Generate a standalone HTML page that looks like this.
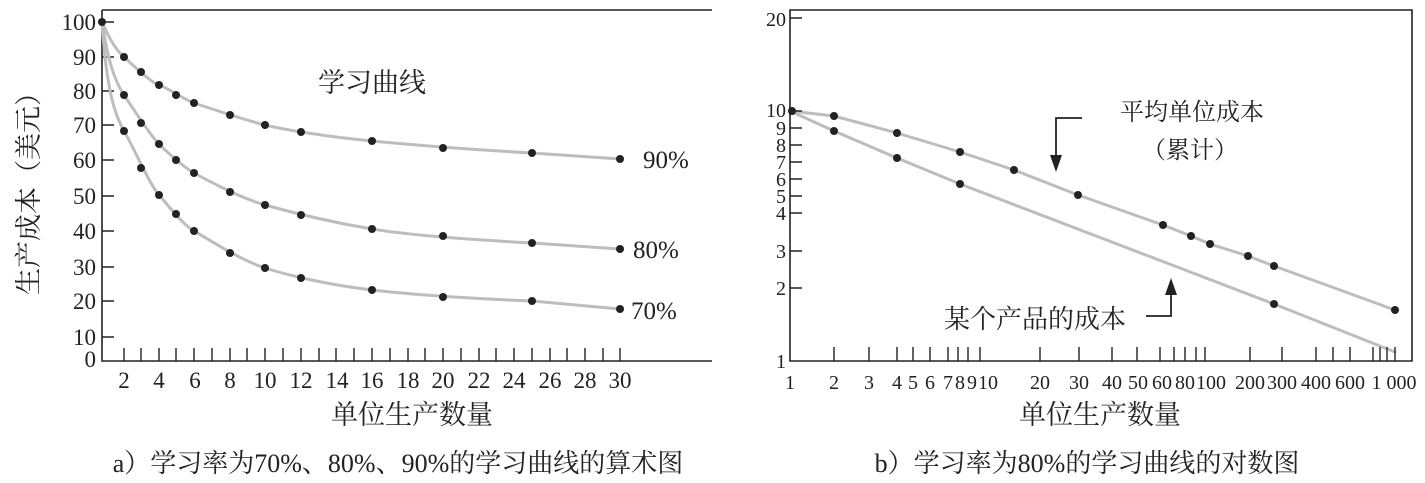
<!DOCTYPE html>
<html><head><meta charset="utf-8"><style>
html,body{margin:0;padding:0;background:#fff}
svg{display:block}
text{font-family:"Liberation Serif","Noto Serif CJK SC","Noto Sans CJK SC",serif;fill:#222}
</style></head><body>
<svg width="1425" height="483" viewBox="0 0 1425 483">
<g stroke="#222" stroke-width="1.6" fill="none">
<path d="M102 10 H712 M102 10 V361 H712"/>
<path d="M790 10 H1412 V361 H790 Z"/>
</g>
<g stroke="#222" stroke-width="1.4">
<path d="M102 22h12M102 57h12M102 91h12M102 125h12M102 160h12M102 196h12M102 231h12M102 267h12M102 301h12M102 337h12"/>
<path d="M124 348v13M141 348v13M159 348v13M176 348v13M194 348v13M212 348v13M230 348v13M247 348v13M265 348v13M283 348v13M301 348v13M319 348v13M336 348v13M354 348v13M372 348v13M390 348v13M408 348v13M425 348v13M443 348v13M461 348v13M479 348v13M496 348v13M514 348v13M532 348v13M550 348v13M567 348v13M585 348v13M603 348v13M620 348v13"/>
</g>
<g font-size="23" text-anchor="end">
<text x="96" y="30">100</text><text x="96" y="65">90</text><text x="96" y="99">80</text><text x="96" y="133">70</text><text x="96" y="168">60</text><text x="96" y="204">50</text><text x="96" y="239">40</text><text x="96" y="275">30</text><text x="96" y="309">20</text><text x="96" y="345">10</text><text x="96" y="367">0</text>
</g>
<g font-size="23" text-anchor="middle">
<text x="124" y="388">2</text><text x="159" y="388">4</text><text x="195" y="388">6</text><text x="230" y="388">8</text><text x="265" y="388">10</text><text x="301" y="388">12</text><text x="337" y="388">14</text><text x="372" y="388">16</text><text x="408" y="388">18</text><text x="443" y="388">20</text><text x="479" y="388">22</text><text x="514" y="388">24</text><text x="550" y="388">26</text><text x="585" y="388">28</text><text x="620" y="388">30</text>
</g>
<text x="0" y="0" font-size="27" text-anchor="middle" transform="translate(38 187) rotate(-90)">生产成本（美元）</text>
<text x="372" y="92" font-size="27" text-anchor="middle">学习曲线</text>
<text x="643" y="168" font-size="25">90%</text>
<text x="633" y="258" font-size="25">80%</text>
<text x="631" y="319" font-size="25">70%</text>
<text x="412" y="424" font-size="27" text-anchor="middle">单位生产数量</text>
<text x="398" y="472" font-size="26" text-anchor="middle">a）学习率为70%、80%、90%的学习曲线的算术图</text>
<g stroke="#bdbdbd" stroke-width="3" fill="none" stroke-linejoin="round" stroke-linecap="round">
<path d="M102 22 C110 40 116 50 124 57 S150 82 159 85 S185 100 194 103 S245 120 265 125 S330 137 372 141 S480 150 532 153 L620 159"/>
<path d="M102 22 C108 60 114 80 124 95 S150 135 159 144 S185 168 194 173 S240 198 265 205 S330 222 372 229 S480 240 532 243 L620 249"/>
<path d="M102 22 C106 80 112 110 124 131 S150 185 159 195 S183 225 194 231 S240 260 265 268 S330 285 372 290 S480 299 532 301 L620 309"/>
<polyline points="790,111 834,116 897,133 960,152 1014,170 1078,195 1163,225 1191,236 1210,244 1248,256 1274,266 1395,310"/>
<polyline points="790,111 834,131 897,158 960,184 1274,304 1395,352"/>
</g>
<g fill="#222">
<circle cx="102" cy="22" r="4"/>
<circle cx="124" cy="57" r="4"/><circle cx="141" cy="72" r="4"/><circle cx="159" cy="85" r="4"/><circle cx="176" cy="95" r="4"/><circle cx="194" cy="103" r="4"/><circle cx="230" cy="115" r="4"/><circle cx="265" cy="125" r="4"/><circle cx="301" cy="132" r="4"/><circle cx="372" cy="141" r="4"/><circle cx="443" cy="148" r="4"/><circle cx="532" cy="153" r="4"/><circle cx="620" cy="159" r="4"/>
<circle cx="124" cy="95" r="4"/><circle cx="141" cy="123" r="4"/><circle cx="159" cy="144" r="4"/><circle cx="176" cy="160" r="4"/><circle cx="194" cy="173" r="4"/><circle cx="230" cy="192" r="4"/><circle cx="265" cy="205" r="4"/><circle cx="301" cy="215" r="4"/><circle cx="372" cy="229" r="4"/><circle cx="443" cy="236" r="4"/><circle cx="532" cy="243" r="4"/><circle cx="620" cy="249" r="4"/>
<circle cx="124" cy="131" r="4"/><circle cx="141" cy="168" r="4"/><circle cx="159" cy="195" r="4"/><circle cx="176" cy="214" r="4"/><circle cx="194" cy="231" r="4"/><circle cx="230" cy="253" r="4"/><circle cx="265" cy="268" r="4"/><circle cx="301" cy="278" r="4"/><circle cx="372" cy="290" r="4"/><circle cx="443" cy="297" r="4"/><circle cx="532" cy="301" r="4"/><circle cx="620" cy="309" r="4"/>
<circle cx="792" cy="111" r="4"/><circle cx="834" cy="116" r="4"/><circle cx="897" cy="133" r="4"/><circle cx="960" cy="152" r="4"/><circle cx="1014" cy="170" r="4"/><circle cx="1078" cy="195" r="4"/><circle cx="1163" cy="225" r="4"/><circle cx="1191" cy="236" r="4"/><circle cx="1210" cy="244" r="4"/><circle cx="1248" cy="256" r="4"/><circle cx="1274" cy="266" r="4"/><circle cx="1395" cy="310" r="4"/>
<circle cx="834" cy="131" r="4"/><circle cx="897" cy="158" r="4"/><circle cx="960" cy="184" r="4"/><circle cx="1274" cy="304" r="4"/>
</g>
<g stroke="#222" stroke-width="1.4">
<path d="M790 18h12M790 111h12M790 128h12M790 145h12M790 162h12M790 179h12M790 196h12M790 213h12M790 251h12M790 288h12"/>
<path d="M834 347v14M869 347v14M897 347v14M913 347v14M930 347v14M948 347v14M958 347v14M968 347v14M980 347v14M1040 347v14M1079 347v14M1112 347v14M1137 347v14M1160 347v14M1174 347v14M1185 347v14M1196 347v14M1205 347v14M1250 347v14M1282 347v14M1316 347v14M1333 347v14M1350 347v14M1373 347v14M1380 347v14M1387 347v14M1395 347v14"/>
</g>
<g font-size="20" text-anchor="end">
<text x="786" y="26">20</text><text x="786" y="117">10</text><text x="786" y="135">9</text><text x="786" y="152">8</text><text x="786" y="169">7</text><text x="786" y="186">6</text><text x="786" y="203">5</text><text x="786" y="220">4</text><text x="786" y="258">3</text><text x="786" y="295">2</text><text x="786" y="368">1</text>
</g>
<g font-size="20" text-anchor="middle">
<text x="790" y="389">1</text><text x="834" y="389">2</text><text x="869" y="389">3</text><text x="897" y="389">4</text><text x="913" y="389">5</text><text x="930" y="389">6</text><text x="948" y="389">7</text><text x="960" y="389">8</text><text x="972" y="389">9</text><text x="988" y="389">10</text><text x="1040" y="389">20</text><text x="1079" y="389">30</text><text x="1112" y="389">40</text><text x="1138" y="389">50</text><text x="1162" y="389">60</text><text x="1185" y="389">80</text><text x="1211" y="389">100</text><text x="1250" y="389">200</text><text x="1282" y="389">300</text><text x="1316" y="389">400</text><text x="1350" y="389">600</text><text x="1394" y="389">1 000</text>
</g>
<text x="1192" y="120" font-size="24" text-anchor="middle">平均单位成本</text>
<text x="1190" y="158" font-size="24" text-anchor="middle">（累计）</text>
<text x="1035" y="328" font-size="26" text-anchor="middle">某个产品的成本</text>
<g stroke="#222" stroke-width="1.8" fill="none">
<path d="M1082 118H1056V165"/>
<path d="M1146 316H1171V285"/>
</g>
<path d="M1050 155L1056 172L1062 155Z M1165 295L1171 278L1177 295Z" fill="#222"/>
<text x="1100" y="424" font-size="27" text-anchor="middle">单位生产数量</text>
<text x="1087" y="472" font-size="26" text-anchor="middle">b）学习率为80%的学习曲线的对数图</text>
</svg>
</body></html>
